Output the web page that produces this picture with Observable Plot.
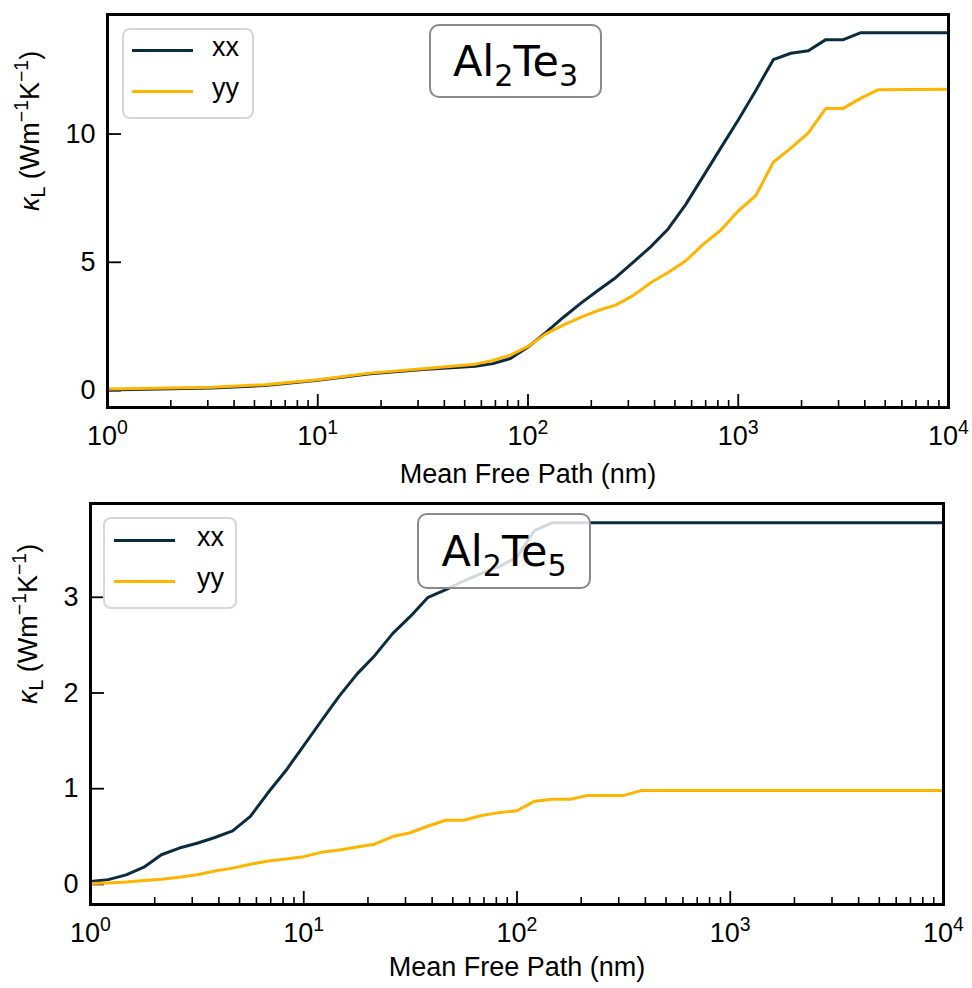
<!DOCTYPE html>
<html><head><meta charset="utf-8">
<script src="https://cdn.jsdelivr.net/npm/d3@7"></script>
<script src="https://cdn.jsdelivr.net/npm/@observablehq/plot@0.6"></script>
<style>
body{margin:0;background:#fff;}
#wrap{position:relative;width:972px;height:988px;background:#fff;font-family:"Liberation Sans",Arial,sans-serif;overflow:hidden;}
#wrap svg{position:absolute;left:0;}
.title{position:absolute;box-sizing:border-box;border:2.5px solid #8a8a8a;border-radius:10px;background:rgba(255,255,255,0.82);font-family:"DejaVu Sans",sans-serif;font-size:43px;color:#000;display:flex;align-items:center;justify-content:center;}
.title span{display:inline-block;line-height:1;white-space:nowrap;}
.title sub{font-size:70%;vertical-align:-0.32em;line-height:0;}
.legend{position:absolute;box-sizing:border-box;border:2.5px solid #d6d6d6;border-radius:8px;background:rgba(255,255,255,0.85);}
.sw{position:absolute;height:3px;}
.lt{position:absolute;font-size:27px;line-height:1;color:#000;}
</style></head>
<body><div id="wrap"></div>
<script>
// ---------------- data ----------------
const seriesNames = ["xx", "yy"];
const seriesColors = ["#0b2c3f", "#ffb400"];
const xTickValues = [1, 10, 100, 1000, 10000];

// Al2Te3 (top panel)
const topMfp = [1, 3.16, 5.62, 10, 17.8, 31.6, 56.2, 68.1, 82.5, 100, 121, 147, 178, 215, 261, 316, 383, 464, 562, 681, 825, 1000, 1212, 1468, 1778, 2154, 2610, 3162, 3831, 4642, 10000];
const topXX  = [0.02, 0.10, 0.20, 0.40, 0.66, 0.82, 0.95, 1.05, 1.25, 1.70, 2.25, 2.85, 3.40, 3.90, 4.40, 5.00, 5.60, 6.30, 7.25, 8.35, 9.45, 10.55, 11.70, 12.90, 13.15, 13.25, 13.68, 13.68, 13.95, 13.95, 13.95];
const topYY  = [0.06, 0.13, 0.23, 0.42, 0.68, 0.85, 1.03, 1.17, 1.38, 1.72, 2.20, 2.55, 2.85, 3.12, 3.33, 3.70, 4.20, 4.60, 5.05, 5.70, 6.25, 7.00, 7.60, 8.90, 9.45, 10.05, 11.00, 11.00, 11.40, 11.73, 11.75];
const topYTicks = [0, 5, 10];
const topYDomain = [-0.66, 14.66];

// Al2Te5 (bottom panel)
const botMfp = [1, 1.21, 1.47, 1.78, 2.15, 2.61, 3.16, 3.83, 4.64, 5.62, 6.81, 8.25, 10, 12.1, 14.7, 17.8, 21.5, 26.1, 31.6, 38.3, 46.4, 56.2, 68.1, 82.5, 100, 121, 147, 178, 215, 261, 316, 383, 10000];
const botXX  = [0.03, 0.05, 0.10, 0.18, 0.31, 0.38, 0.43, 0.49, 0.56, 0.71, 0.96, 1.19, 1.45, 1.71, 1.97, 2.20, 2.39, 2.62, 2.80, 3.00, 3.08, 3.17, 3.25, 3.32, 3.42, 3.70, 3.78, 3.78, 3.78, 3.78, 3.78, 3.78, 3.78];
const botYY  = [0.01, 0.015, 0.025, 0.04, 0.055, 0.075, 0.10, 0.14, 0.17, 0.21, 0.245, 0.265, 0.29, 0.335, 0.36, 0.39, 0.42, 0.50, 0.54, 0.61, 0.67, 0.67, 0.72, 0.75, 0.77, 0.87, 0.89, 0.89, 0.93, 0.93, 0.93, 0.98, 0.98];
const botYTicks = [0, 1, 2, 3];
const botYDomain = [-0.21, 3.98];

const xLabel = "Mean Free Path (nm)";
const yLabel = "κ_{L} (Wm^{−1}K^{−1})";

// ---------------- helpers ----------------
const FS = 27;
const minorX = [];
for (const d of [1, 10, 100, 1000]) for (let m = 2; m <= 9; m++) minorX.push(d * m);

function richify(svg) {
  svg.querySelectorAll("text").forEach(t => {
    const s = t.textContent;
    if (!/[\^_]\{/.test(s)) return;
    while (t.firstChild) t.removeChild(t.firstChild);
    const re = /([\^_])\{([^}]*)\}|([^\^_]+)/g;
    let m, shift = 0;
    while ((m = re.exec(s)) !== null) {
      const ts = document.createElementNS("http://www.w3.org/2000/svg", "tspan");
      if (m[3] !== undefined) {
        let txt = m[3];
        if (shift !== 0) { ts.setAttribute("dy", -shift); shift = 0; }
        if (txt.startsWith("κ")) {
          const k = document.createElementNS("http://www.w3.org/2000/svg", "tspan");
          k.setAttribute("font-style", "italic");
          k.textContent = "κ";
          if (ts.getAttribute("dy")) { k.setAttribute("dy", ts.getAttribute("dy")); }
          t.appendChild(k);
          txt = txt.slice(1);
          if (!txt) continue;
          ts.removeAttribute("dy");
        }
        ts.textContent = txt;
      } else {
        const d = m[1] === "^" ? -0.42 * FS : 0.22 * FS;
        ts.setAttribute("dy", d - shift);
        shift = d;
        ts.setAttribute("font-size", 0.72 * FS);
        ts.textContent = m[2];
      }
      t.appendChild(ts);
    }
  });
}

function panel({mfp, xx, yy, yTicks, yDomain, height, mt, mb, ml, mr, tickDy, labelDy, yLabelDx}) {
  const W = 972, fh = height - mt - mb, fw = W - ml - mr;
  const rows = (vals) => mfp.map((x, i) => ({mfp: x, k: vals[i]}));
  const svg = Plot.plot({
    width: W, height, marginTop: mt, marginBottom: mb, marginLeft: ml, marginRight: mr,
    style: {fontFamily: "'Liberation Sans', Arial, sans-serif", fontSize: FS + "px", color: "#000", background: "transparent", overflow: "visible"},
    x: {type: "log", domain: [1, 1e4], axis: null},
    y: {domain: yDomain, axis: null},
    marks: [
      Plot.ruleX(minorX, {x: d => d, insetTop: fh - 7, stroke: "#000", strokeWidth: 1.6}),
      Plot.ruleX(xTickValues, {x: d => d, insetTop: fh - 13, stroke: "#000", strokeWidth: 1.8}),
      Plot.ruleY(yTicks, {y: d => d, insetRight: fw - 14, stroke: "#000", strokeWidth: 1.8}),
      Plot.line(rows(xx), {x: "mfp", y: "k", stroke: seriesColors[0], strokeWidth: 3}),
      Plot.line(rows(yy), {x: "mfp", y: "k", stroke: seriesColors[1], strokeWidth: 3}),
      Plot.frame({stroke: "#000", strokeWidth: 3}),
      Plot.text(xTickValues, {x: d => d, text: d => `10^{${Math.round(Math.log10(d))}}`, frameAnchor: "bottom", dy: tickDy, lineAnchor: "middle", fontSize: FS}),
      Plot.text(yTicks, {y: d => d, text: d => String(d), frameAnchor: "left", dx: -12, textAnchor: "end", lineAnchor: "middle", fontSize: FS}),
      Plot.text([xLabel], {frameAnchor: "bottom", dy: labelDy, lineAnchor: "middle", fontSize: FS}),
      Plot.text([yLabel], {frameAnchor: "left", dx: yLabelDx, rotate: -90, lineAnchor: "middle", fontSize: FS})
    ]
  });
  richify(svg);
  return svg;
}

const wrap = document.getElementById("wrap");
const top1 = panel({mfp: topMfp, xx: topXX, yy: topYY, yTicks: topYTicks, yDomain: topYDomain,
  height: 490, mt: 14, mb: 83, ml: 107, mr: 24, tickDy: 29, labelDy: 67, yLabelDx: -77});
top1.style.top = "0px";
wrap.appendChild(top1);
const bot1 = panel({mfp: botMfp, xx: botXX, yy: botYY, yTicks: botYTicks, yDomain: botYDomain,
  height: 498, mt: 13, mb: 84, ml: 90, mr: 29, tickDy: 29, labelDy: 63, yLabelDx: -62});
bot1.style.top = "490px";
wrap.appendChild(bot1);

// title boxes and legends
function addTitle(html, l, t, w, h) {
  const d = document.createElement("div");
  d.className = "title";
  Object.assign(d.style, {left: l + "px", top: t + "px", width: w + "px", height: h + "px"});
  d.innerHTML = "<span>" + html + "</span>";
  wrap.appendChild(d);
}
function addLegend(l, t, w, h, lineL, lineW, ys, textL) {
  const b = document.createElement("div");
  b.className = "legend";
  Object.assign(b.style, {left: l + "px", top: t + "px", width: w + "px", height: h + "px"});
  wrap.appendChild(b);
  seriesNames.forEach((name, i) => {
    const s = document.createElement("div");
    s.className = "sw";
    Object.assign(s.style, {left: lineL + "px", top: (ys[i] - 1.5) + "px", width: lineW + "px", background: seriesColors[i]});
    wrap.appendChild(s);
    const tx = document.createElement("div");
    tx.className = "lt";
    tx.textContent = name;
    Object.assign(tx.style, {left: textL + "px", top: (ys[i] - 16) + "px"});
    wrap.appendChild(tx);
  });
}
addLegend(122, 28, 132, 91, 132, 61, [50, 91], 212);
addTitle("Al<sub>2</sub>Te<sub>3</sub>", 429, 24, 173, 74);
addLegend(103, 517, 134, 92, 114, 61, [540, 581], 197);
addTitle("Al<sub>2</sub>Te<sub>5</sub>", 417, 513, 174, 76);
</script>
</body></html>
